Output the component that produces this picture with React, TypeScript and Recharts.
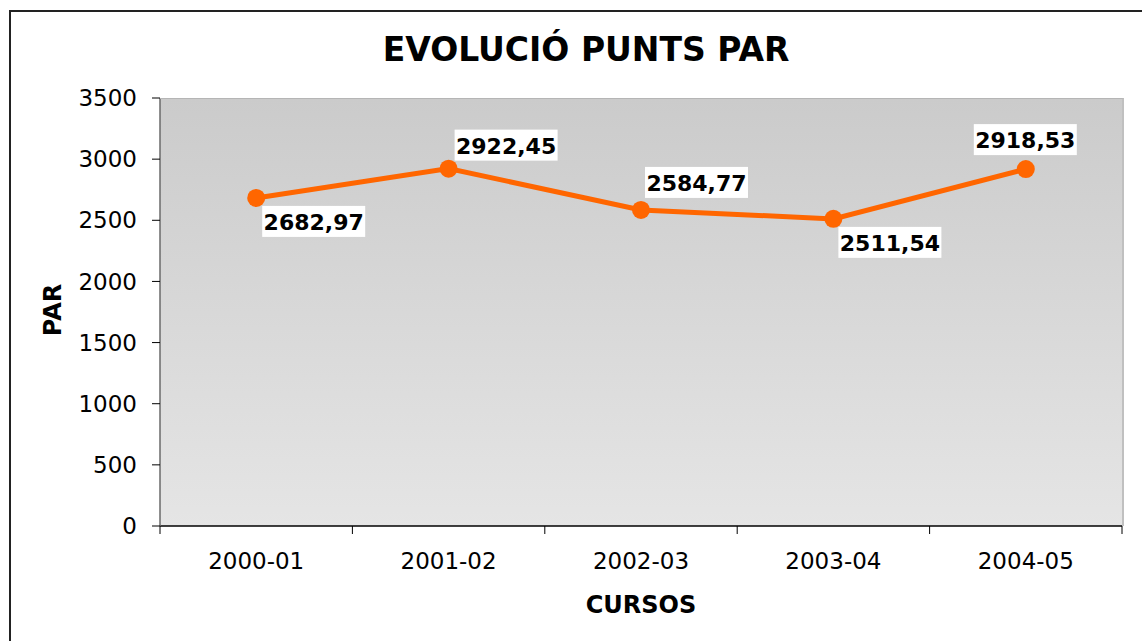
import {
  LineChart,
  Line,
  XAxis,
  YAxis,
  CartesianGrid,
  LabelList,
} from "recharts";

const cursos = ["2000-01", "2001-02", "2002-03", "2003-04", "2004-05"];
const punts = [2682.97, 2922.45, 2584.77, 2511.54, 2918.53];
const yTicks = [0, 500, 1000, 1500, 2000, 2500, 3000, 3500];
const markTicks = [0, 1, 2, 3, 4, 5];

const data = cursos.map((curs, i) => ({ curs, par: punts[i] }));

// where each value box sits relative to its point (like the Excel original)
const labelOffsets = [
  [6, 8],
  [6, -39],
  [4, -43],
  [5, 8],
  [-52, -45],
];

const FONT = "'DejaVu Sans', Verdana, sans-serif";

const ValueLabel = (props: any) => {
  const { x, y, value, index } = props;
  const [dx, dy] = labelOffsets[index] || [6, 8];
  const left = x + dx;
  const top = y + dy;
  return (
    <g>
      <rect x={left} y={top} width={103} height={31} fill="#fff" />
      <text
        x={left + 51.5}
        y={top + 24}
        textAnchor="middle"
        fontFamily={FONT}
        fontWeight="bold"
        fontSize={22}
        fill="#000"
      >
        {Number(value).toFixed(2).replace(".", ",")}
      </text>
    </g>
  );
};

const tickStyle = { fontFamily: FONT, fontSize: 23, fill: "#000" };

const App = () => {
  return (
    <div
      style={{
        position: "fixed",
        left: 0,
        top: 0,
        width: 1142,
        height: 641,
        overflow: "hidden",
        background: "#fff",
        fontFamily: FONT,
      }}
    >
      <div
        style={{
          position: "absolute",
          left: 9,
          top: 10,
          width: 1200,
          height: 700,
          border: "2px solid #222",
        }}
      />
      <div
        style={{
          position: "absolute",
          left: 286,
          width: 600,
          top: 30,
          textAlign: "center",
          fontWeight: "bold",
          fontSize: 33,
          lineHeight: "40px",
          color: "#000",
        }}
      >
        EVOLUCIÓ PUNTS PAR
      </div>
      <div
        style={{
          position: "absolute",
          left: 53,
          top: 310,
          transform: "translate(-50%, -50%) rotate(-90deg)",
          fontWeight: "bold",
          fontSize: 24,
          color: "#000",
          whiteSpace: "nowrap",
        }}
      >
        PAR
      </div>
      <div
        style={{
          position: "absolute",
          left: 441,
          width: 400,
          top: 590,
          textAlign: "center",
          fontWeight: "bold",
          fontSize: 24,
          lineHeight: "30px",
          color: "#000",
        }}
      >
        CURSOS
      </div>
      <div style={{ position: "absolute", left: 0, top: 0 }}>
        <LineChart
          width={1142}
          height={641}
          data={data}
          margin={{ top: 98, right: 20, left: 80, bottom: 54 }}
        >
          <defs>
            <linearGradient id="plotBg" x1="0" y1="0" x2="0" y2="1">
              <stop offset="0%" stopColor="#cbcbcb" />
              <stop offset="100%" stopColor="#e5e5e5" />
            </linearGradient>
          </defs>
          <CartesianGrid
            xAxisId={0}
            yAxisId={0}
            horizontal={false}
            vertical={false}
            fill="url(#plotBg)"
          />
          {/* boundary tick marks between categories, Excel style */}
          <XAxis
            xAxisId={0}
            type="number"
            dataKey="par"
            domain={[0, 5]}
            ticks={markTicks}
            allowDataOverflow
            tickFormatter={() => ""}
            tickSize={8}
            tickMargin={0}
            height={1}
            axisLine={{ stroke: "#000", strokeWidth: 1.5 }}
            tickLine={{ stroke: "#000" }}
          />
          <XAxis
            xAxisId="cat"
            dataKey="curs"
            type="category"
            scale="band"
            height={60}
            axisLine={false}
            tickLine={false}
            tickSize={0}
            tickMargin={26}
            interval={0}
            tick={tickStyle}
          />
          <YAxis
            yAxisId={0}
            width={80}
            domain={[0, 3500]}
            ticks={yTicks}
            tickSize={8}
            tickMargin={15}
            axisLine={{ stroke: "#6a6a6a", strokeWidth: 1.5 }}
            tickLine={{ stroke: "#000" }}
            tick={tickStyle}
          />
          <Line
            xAxisId="cat"
            yAxisId={0}
            dataKey="par"
            stroke="#ff6600"
            strokeWidth={5}
            dot={{ r: 9, fill: "#ff6600", stroke: "#ff6600", strokeWidth: 0 }}
            activeDot={false}
            isAnimationActive={false}
          >
            <LabelList dataKey="par" content={<ValueLabel />} />
          </Line>
        </LineChart>
      </div>
      <div
        style={{
          position: "absolute",
          left: 160,
          top: 98,
          width: 962,
          height: 427,
          borderTop: "1px solid #b5b5b5",
          borderRight: "2px solid #c0c0c0",
          pointerEvents: "none",
        }}
      />
    </div>
  );
};

export default App;
